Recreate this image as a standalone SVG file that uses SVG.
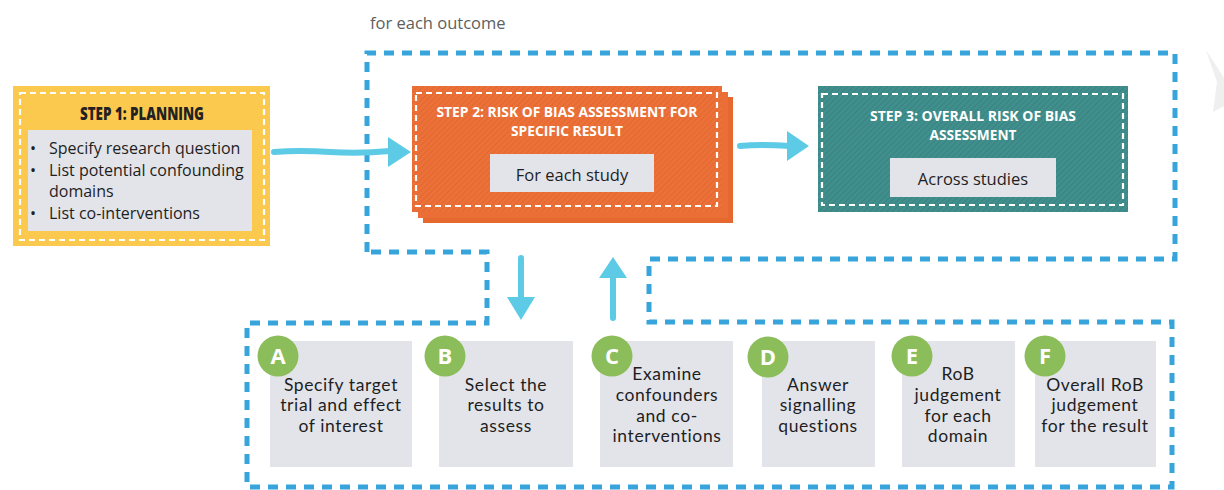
<svg xmlns="http://www.w3.org/2000/svg" width="1224" height="490" viewBox="0 0 1224 490">
<defs>
<pattern id="hatchO" width="4" height="4" patternUnits="userSpaceOnUse" patternTransform="rotate(45)">
<rect width="4" height="4" fill="#ec7139"/>
<line x1="0" y1="0" x2="0" y2="4" stroke="#e0642d" stroke-width="1.5"/>
</pattern>
<pattern id="hatchT" width="4" height="4" patternUnits="userSpaceOnUse" patternTransform="rotate(45)">
<rect width="4" height="4" fill="#408f8d"/>
<line x1="0" y1="0" x2="0" y2="4" stroke="#367f7d" stroke-width="1.5"/>
</pattern>
<style>
.frame{fill:none;stroke:#37a4dc;stroke-width:5;stroke-dasharray:10 8}
.inner{fill:none;stroke:#ffffff;stroke-width:2.2;stroke-dasharray:6 4}
.arrow{fill:none;stroke:#5dcbe6;stroke-width:6;stroke-linecap:round}
.head{fill:#5dcbe6}
.gbox{fill:#e3e4ea}
.title{font-family:"Open Sans","Roboto",sans-serif;font-weight:800;text-anchor:middle}
.title2{font-family:"Open Sans","Roboto",sans-serif;font-weight:700;font-size:15px;fill:#ffffff;text-anchor:middle}
.body{font-family:"Open Sans",sans-serif;font-size:16px;fill:#1e1e1e}
.sub{font-family:"Lato","Liberation Sans",sans-serif;font-size:17.5px;letter-spacing:0.6px;fill:#1e1e1e;text-anchor:middle}
.circ{fill:#8bbd5a}
.lt{font-family:"Open Sans",sans-serif;font-weight:700;font-size:22px;fill:#ffffff;text-anchor:middle}
</style>
</defs>
<rect width="1224" height="490" fill="#ffffff"/>
<path d="M1206,50 L1224,78 L1224,106 L1213,112 L1217,82 Z" fill="#efefef"/>
<text x="370" y="29" font-family="'Open Sans',sans-serif" font-size="16.5" fill="#5e5e5e">for each outcome</text>

<g id="connectors">
<path class="frame" d="M367,252 V53 H1175 V259 H649 V322 H1172 V487 H247 V323 H487 V252 Z"/>
<path class="arrow" d="M274,152 Q300,150 330,152 T390,151"/>
<polygon class="head" points="388,137 411,152 388,167"/>
<path class="arrow" d="M740,146 Q760,144 790,146"/>
<polygon class="head" points="787,131 809,146 787,161"/>
<path class="arrow" d="M521,258 L521,300"/>
<polygon class="head" points="507,297 535,297 521,320"/>
<path class="arrow" d="M613,318 L613,276"/>
<polygon class="head" points="599,278 627,278 613,257"/>
</g>

<g id="step1">
<rect x="13" y="86" width="257" height="160" fill="#fcc94f"/>
<rect x="20" y="93" width="244" height="147" class="inner"/>
<text x="142" y="120" class="title" font-size="18" fill="#222222" textLength="124" lengthAdjust="spacingAndGlyphs">STEP 1: PLANNING</text>
<rect x="28" y="130" width="224" height="101" class="gbox"/>
<text class="body" x="30" y="154">•</text>
<text class="body" x="49" y="154">Specify research question</text>
<text class="body" x="30" y="176">•</text>
<text class="body" x="49" y="176">List potential confounding</text>
<text class="body" x="49" y="197">domains</text>
<text class="body" x="30" y="219">•</text>
<text class="body" x="49" y="219">List co-interventions</text>
</g>

<g id="step2">
<rect x="423" y="97" width="310" height="126" fill="#e5692f"/>
<rect x="418" y="92" width="310" height="126" fill="#ea6e35"/>
<rect x="412" y="86" width="310" height="126" fill="url(#hatchO)"/>
<rect x="416" y="93" width="301" height="113" class="inner"/>
<text x="567" y="117" class="title2" textLength="261" lengthAdjust="spacingAndGlyphs">STEP 2: RISK OF BIAS ASSESSMENT FOR</text>
<text x="567" y="136" class="title2" textLength="112" lengthAdjust="spacingAndGlyphs">SPECIFIC RESULT</text>
<rect x="490" y="154" width="164" height="38" class="gbox"/>
<text x="572" y="181" font-family="'Open Sans',sans-serif" font-size="16.5" fill="#1e1e1e" text-anchor="middle">For each study</text>
</g>

<g id="step3">
<rect x="818" y="86" width="310" height="126" fill="url(#hatchT)"/>
<rect x="822" y="94" width="301" height="111" class="inner"/>
<text x="973" y="121" class="title2" textLength="206" lengthAdjust="spacingAndGlyphs">STEP 3: OVERALL RISK OF BIAS</text>
<text x="973" y="140" class="title2" textLength="87" lengthAdjust="spacingAndGlyphs">ASSESSMENT</text>
<rect x="890" y="158" width="166" height="39" class="gbox"/>
<text x="973" y="185" font-family="'Open Sans',sans-serif" font-size="16.5" fill="#1e1e1e" text-anchor="middle">Across studies</text>
</g>

<g id="boxA">
<rect x="270" y="341" width="142" height="126" class="gbox"/>
<circle cx="278" cy="356" r="20.5" class="circ"/>
<text x="278" y="364" class="lt">A</text>
<text class="sub" x="341" y="391">Specify target</text>
<text class="sub" x="341" y="411">trial and effect</text>
<text class="sub" x="341" y="432">of interest</text>
</g>
<g id="boxB">
<rect x="439" y="341" width="134" height="126" class="gbox"/>
<circle cx="445" cy="356" r="20.5" class="circ"/>
<text x="445" y="364" class="lt">B</text>
<text class="sub" x="506" y="391">Select the</text>
<text class="sub" x="506" y="411">results to</text>
<text class="sub" x="506" y="432">assess</text>
</g>
<g id="boxC">
<rect x="600" y="341" width="133" height="126" class="gbox"/>
<circle cx="612" cy="356" r="20.5" class="circ"/>
<text x="612" y="364" class="lt">C</text>
<text class="sub" x="667" y="380">Examine</text>
<text class="sub" x="667" y="401">confounders</text>
<text class="sub" x="667" y="422">and co-</text>
<text class="sub" x="667" y="442">interventions</text>
</g>
<g id="boxD">
<rect x="762" y="341" width="113" height="126" class="gbox"/>
<circle cx="768" cy="357" r="20.5" class="circ"/>
<text x="768" y="365" class="lt">D</text>
<text class="sub" x="818" y="391">Answer</text>
<text class="sub" x="818" y="411">signalling</text>
<text class="sub" x="818" y="432">questions</text>
</g>
<g id="boxE">
<rect x="902" y="341" width="113" height="126" class="gbox"/>
<circle cx="912" cy="356" r="20.5" class="circ"/>
<text x="912" y="364" class="lt">E</text>
<text class="sub" x="958" y="380">RoB</text>
<text class="sub" x="958" y="401">judgement</text>
<text class="sub" x="958" y="422">for each</text>
<text class="sub" x="958" y="442">domain</text>
</g>
<g id="boxF">
<rect x="1035" y="341" width="121" height="126" class="gbox"/>
<circle cx="1045" cy="356" r="20.5" class="circ"/>
<text x="1045" y="364" class="lt">F</text>
<text class="sub" x="1095" y="391">Overall RoB</text>
<text class="sub" x="1095" y="411">judgement</text>
<text class="sub" x="1095" y="432">for the result</text>
</g>
</svg>
